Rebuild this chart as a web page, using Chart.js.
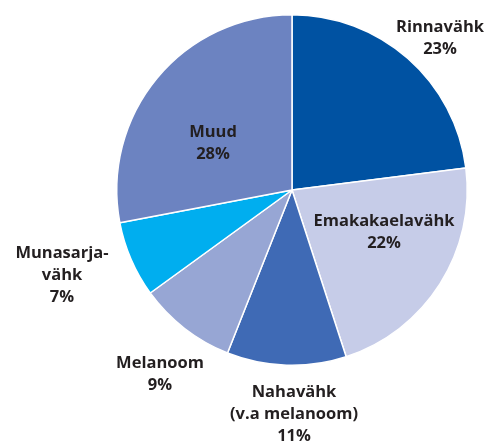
<!DOCTYPE html>
<html>
<head>
<meta charset="utf-8">
<script src="https://cdn.jsdelivr.net/npm/chart.js@4"></script>
<style>
  html, body { margin: 0; padding: 0; background: #fff; }
  #wrap { width: 496px; height: 442px; position: relative; }
</style>
</head>
<body>
<div id="wrap"><canvas id="chart"></canvas></div>
<script>
// data
const labels = ['Rinnavähk', 'Emakakaelavähk', 'Nahavähk (v.a melanoom)', 'Melanoom', 'Munasarjavähk', 'Muud'];
const values = [23, 22, 11, 9, 7, 28];
const colors = ['#0052a2', '#c6cce8', '#3f6ab5', '#97a6d4', '#00aeef', '#6c83c1'];

// label text lines, one entry per slice
const labelLines = [
  ['Rinnavähk'],
  ['Emakakaelavähk'],
  ['Nahavähk', '(v.a melanoom)'],
  ['Melanoom'],
  ['Munasarja-', 'vähk'],
  ['Muud']
];
// fixed spots for each label block (first line centre)
const labelSpots = [
  { x: 440, y: 27 },
  { x: 384, y: 221 },
  { x: 294, y: 392 },
  { x: 160, y: 363 },
  { x: 62, y: 253 },
  { x: 213, y: 132 }
];

const sliceLabels = {
  id: 'sliceLabels',
  afterDatasetsDraw(chart) {
    const ctx = chart.ctx;
    ctx.save();
    ctx.font = 'bold 16.5px "Open Sans", sans-serif';
    ctx.fillStyle = '#231f20';
    ctx.textAlign = 'center';
    ctx.textBaseline = 'middle';
    labelLines.forEach((lines, i) => {
      const all = [...lines, values[i] + '%'];
      const spot = labelSpots[i];
      all.forEach((t, j) => ctx.fillText(t, spot.x, spot.y + j * 22));
    });
    ctx.restore();
  }
};

new Chart(document.getElementById('chart'), {
  type: 'pie',
  data: {
    labels: labels,
    datasets: [{
      data: values,
      backgroundColor: colors,
      borderColor: '#ffffff',
      borderWidth: 1.5
    }]
  },
  options: {
    responsive: true,
    maintainAspectRatio: false,
    animation: false,
    layout: { padding: { left: 116, right: 28, top: 14, bottom: 76 } },
    plugins: {
      legend: { display: false },
      tooltip: { enabled: false }
    }
  },
  plugins: [sliceLabels]
});
</script>
</body>
</html>
